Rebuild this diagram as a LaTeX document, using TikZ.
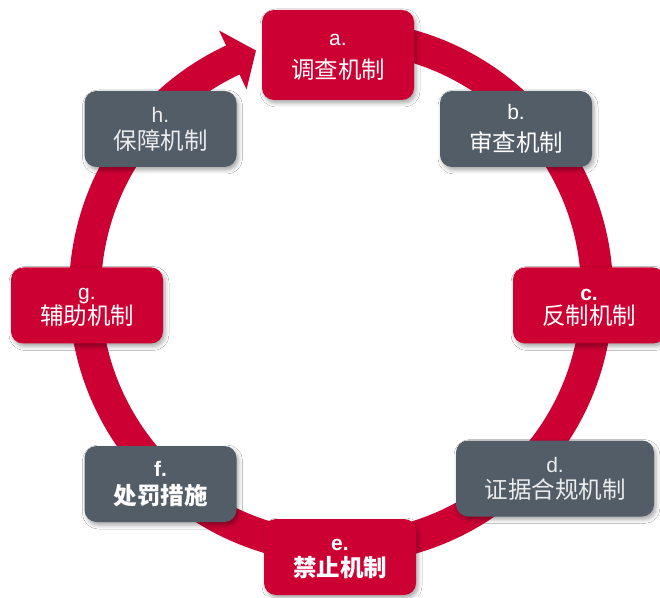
\documentclass[tikz,border=0pt]{standalone}
\usepackage{fontspec}
\setmainfont{Liberation Sans}
\newfontfamily\cjk{Noto Sans CJK SC}
\usetikzlibrary{shadows.blur,calc}
\definecolor{myred}{HTML}{CC0033}
\definecolor{mygray}{HTML}{535D68}
\newcommand\lt[1]{{\fontsize{21}{21}\selectfont\vphantom{b}#1}}
\begin{document}
\begin{tikzpicture}[x=1pt,y=1pt,
  box/.style={rounded corners=12pt, minimum width=152pt, minimum height=76pt,
    inner sep=0pt, align=center, text=white,
    blur shadow={shadow xshift=2pt, shadow yshift=-3pt, shadow blur radius=4pt, shadow opacity=35}},
  redbox/.style={box, fill=myred},
  graybox/.style={box, fill=mygray},
  ls/.style={font=\fontsize{23.5}{#1}\selectfont},
  ring/.style={draw=myred, line width=32pt, line cap=butt},
]
\fill[white] (0,0) rectangle (660,597);
\useasboundingbox (0,0) rectangle (660,597);
\coordinate (O) at (341,305);
% ring with arrow
\draw[ring] ([shift={(80:256pt)}]O) arc[start angle=80, end angle=-245.5, radius=256pt];
\fill[myred] ([shift={(115:288.5pt)}]O) -- ([shift={(109.4:256pt)}]O) -- ([shift={(115:223.5pt)}]O) -- cycle;
% boxes
\node[redbox, minimum height=90pt, ls=33] (a) at (338,542) {\lt{a.}\\{\cjk 调查机制}};
\node[graybox, ls=32] (b) at (516,468) {\lt{b.}\\{\cjk 审查机制}};
\node[redbox, ls=24] (c) at (589,291.5) {\lt{\bfseries c.}\\{\cjk 反制机制}};
\node[graybox, minimum width=198pt, ls=26, text=white!88!mygray] (d) at (555,118.5) {\lt{d.}\\{\cjk 证据合规机制}};
\node[redbox, ls=26] (e) at (340,40) {\lt{\bfseries e.}\\{\cjk\bfseries 禁止机制}};
\node[graybox, ls=28] (f) at (160.5,113) {\lt{\bfseries f.}\\{\cjk\bfseries 处罚措施}};
\node[redbox, ls=25] (g) at (87,291.5) {\lt{g.}\\{\cjk 辅助机制}};
\node[graybox, ls=27, text=white!88!mygray] (h) at (160.5,468) {\lt{h.}\\{\cjk 保障机制}};
\end{tikzpicture}
\end{document}
